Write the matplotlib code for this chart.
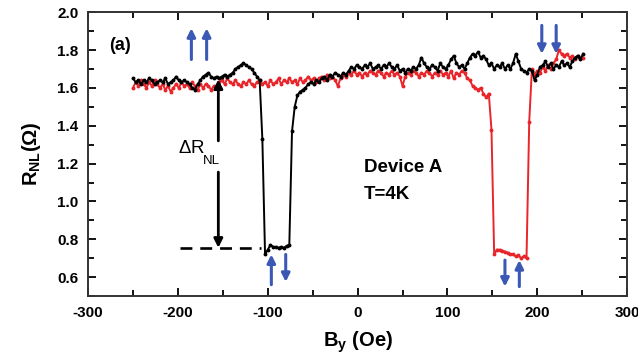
import numpy as np
import matplotlib
matplotlib.use("Agg")
import matplotlib.pyplot as plt

plt.rcParams['font.family'] = ['Liberation Sans', 'DejaVu Sans']
plt.rcParams['mathtext.fontset'] = 'custom'
plt.rcParams['mathtext.rm'] = 'Liberation Sans'
plt.rcParams['mathtext.it'] = 'Liberation Sans'
plt.rcParams['mathtext.bf'] = 'Liberation Sans:bold'

# Field sweep (Oe), uniform 3 Oe steps from -250 to 251
field = np.arange(-250, 252, 3)

r_black = [
    1.65, 1.63, 1.64, 1.62, 1.64, 1.63, 1.65, 1.64, 1.62, 1.63,
    1.64, 1.63, 1.65, 1.62, 1.63, 1.64, 1.66, 1.64, 1.63, 1.64,
    1.63, 1.62, 1.60, 1.59, 1.62, 1.64, 1.66, 1.67, 1.68, 1.66,
    1.65, 1.66, 1.65, 1.66, 1.67, 1.66, 1.67, 1.68, 1.70, 1.71,
    1.72, 1.73, 1.72, 1.71, 1.70, 1.68, 1.66, 1.64, 1.33, 0.72,
    0.745, 0.77, 0.76, 0.76, 0.755, 0.76, 0.755, 0.765, 0.77, 1.37,
    1.50, 1.56, 1.58, 1.59, 1.60, 1.62, 1.63, 1.62, 1.64, 1.63,
    1.65, 1.66, 1.64, 1.67, 1.66, 1.68, 1.67, 1.66, 1.68, 1.67,
    1.69, 1.71, 1.70, 1.72, 1.71, 1.70, 1.72, 1.71, 1.73, 1.70,
    1.71, 1.72, 1.70, 1.72, 1.71, 1.73, 1.71, 1.70, 1.72, 1.69,
    1.70, 1.68, 1.70, 1.69, 1.71, 1.70, 1.72, 1.76, 1.73, 1.71,
    1.70, 1.72, 1.71, 1.69, 1.73, 1.71, 1.70, 1.72, 1.75, 1.77,
    1.73, 1.71, 1.72, 1.70, 1.73, 1.76, 1.78, 1.77, 1.79, 1.76,
    1.77, 1.75, 1.72, 1.73, 1.70, 1.72, 1.71, 1.73, 1.70, 1.72,
    1.70, 1.73, 1.78, 1.74, 1.70, 1.69, 1.68, 1.70, 1.69, 1.64,
    1.67, 1.71, 1.72, 1.74, 1.71, 1.73, 1.70, 1.72, 1.71, 1.74,
    1.72, 1.73, 1.71, 1.74, 1.76, 1.77, 1.75, 1.78,
]

r_red = [
    1.60, 1.63, 1.61, 1.64, 1.62, 1.60, 1.63, 1.61, 1.64, 1.62,
    1.60, 1.62, 1.59, 1.61, 1.58, 1.60, 1.62, 1.60, 1.63, 1.61,
    1.62, 1.60, 1.63, 1.61, 1.59, 1.62, 1.60, 1.62, 1.61, 1.59,
    1.61, 1.60, 1.63, 1.64, 1.62, 1.65, 1.63, 1.62, 1.64, 1.62,
    1.61, 1.63, 1.62, 1.64, 1.62, 1.61, 1.63, 1.64, 1.62, 1.63,
    1.61, 1.64, 1.62, 1.63, 1.65, 1.62, 1.64, 1.63, 1.65, 1.63,
    1.64, 1.62, 1.65, 1.63, 1.64, 1.66, 1.64, 1.65, 1.63, 1.65,
    1.66, 1.64, 1.67, 1.65, 1.66, 1.64, 1.61, 1.65, 1.67, 1.66,
    1.68, 1.67, 1.69, 1.67, 1.68, 1.66, 1.68, 1.67, 1.69, 1.68,
    1.67, 1.69, 1.68, 1.66, 1.68, 1.67, 1.69, 1.67, 1.68, 1.66,
    1.61, 1.66, 1.68, 1.67, 1.69, 1.68, 1.66, 1.68, 1.67, 1.69,
    1.68, 1.66, 1.68, 1.67, 1.69, 1.67, 1.68, 1.66, 1.69, 1.65,
    1.68, 1.67, 1.69, 1.68, 1.65, 1.64, 1.61, 1.60, 1.59, 1.60,
    1.57, 1.55, 1.57, 1.38, 0.72, 0.745, 0.745, 0.74, 0.735, 0.73,
    0.72, 0.72, 0.71, 0.715, 0.70, 0.71, 0.70, 1.42, 1.70, 1.67,
    1.69, 1.68, 1.71, 1.69, 1.72, 1.70, 1.73, 1.75, 1.80, 1.78,
    1.77, 1.78, 1.76, 1.77, 1.75, 1.77, 1.76, 1.76,
]

x_ticks = [-300, -200, -100, 0, 100, 200, 300]
y_ticks = [0.6, 0.8, 1.0, 1.2, 1.4, 1.6, 1.8, 2.0]
delta_level = 0.755

BLUE = '#3a58b4'
RED = '#e8252b'

fig = plt.figure(figsize=(6.38, 3.58), dpi=100)
ax = fig.add_axes([0.138, 0.173, 0.845, 0.793])

ax.plot(field, r_red, color=RED, lw=1.4, marker='o', ms=1.8, zorder=3)
ax.plot(field, r_black, color='black', lw=1.4, marker='o', ms=1.8, zorder=4)

# dashed reference level
ax.plot([-198, -107], [delta_level, delta_level], color='black', lw=1.9,
        ls=(0, (4.5, 3)), zorder=2)

# Delta R arrows
ax.annotate('', xy=(-155, 1.645), xytext=(-155, 1.32),
            arrowprops=dict(arrowstyle='-|>', color='black', lw=2.0,
                            mutation_scale=13, shrinkA=0, shrinkB=0))
ax.annotate('', xy=(-155, delta_level), xytext=(-155, 1.155),
            arrowprops=dict(arrowstyle='-|>', color='black', lw=2.0,
                            mutation_scale=13, shrinkA=0, shrinkB=0))
ax.text(-200, 1.256, r'$\Delta$R', fontsize=13.5, ha='left', va='baseline')
ax.text(-172, 1.20, 'NL', fontsize=9.5, ha='left', va='baseline')

# blue magnetisation arrows
def barrow(x, y0, y1):
    ax.annotate('', xy=(x, y1), xytext=(x, y0),
                arrowprops=dict(arrowstyle='-|>', color=BLUE, lw=2.2,
                                mutation_scale=12, shrinkA=0, shrinkB=0))

barrow(-185, 1.75, 1.915)
barrow(-168, 1.75, 1.915)
barrow(205, 1.93, 1.78)
barrow(221, 1.93, 1.78)
barrow(-96, 0.56, 0.72)
barrow(-80, 0.72, 0.575)
barrow(164, 0.69, 0.55)
barrow(180, 0.55, 0.69)

ax.text(-276, 1.826, '(a)', fontsize=13, fontweight='bold', va='center')
ax.text(7, 1.18, 'Device A', fontsize=13.5, fontweight='bold', va='center')
ax.text(7, 1.035, 'T=4K', fontsize=13.5, fontweight='bold', va='center')

ax.set_xlim(-300, 300)
ax.set_ylim(0.5, 2.0)
ax.set_xticks(x_ticks)
ax.set_xticklabels([str(v) for v in x_ticks])
ax.set_yticks(y_ticks)
ax.set_yticklabels([f'{v:.1f}' for v in y_ticks])
ax.set_xticks(np.arange(-250, 300, 100), minor=True)
ax.set_yticks(np.arange(0.5, 2.0, 0.2), minor=True)
ax.tick_params(which='both', direction='in', top=True, right=True,
               width=1.3, labelsize=11)
ax.tick_params(which='major', length=6, pad=7)
ax.tick_params(which='minor', length=4)
for lab in ax.get_xticklabels() + ax.get_yticklabels():
    lab.set_fontweight('bold')
for s in ax.spines.values():
    s.set_linewidth(1.4)
    s.set_color('#333333')

ax.set_xlabel(r'$\mathbf{B_y}$ (Oe)', fontsize=14.5, fontweight='bold', labelpad=7)
ax.set_ylabel(r'$\mathbf{R_{NL}}$($\mathbf{\Omega}$)', fontsize=14.5,
              fontweight='bold', labelpad=10)

fig.savefig('out.png', dpi=100)
